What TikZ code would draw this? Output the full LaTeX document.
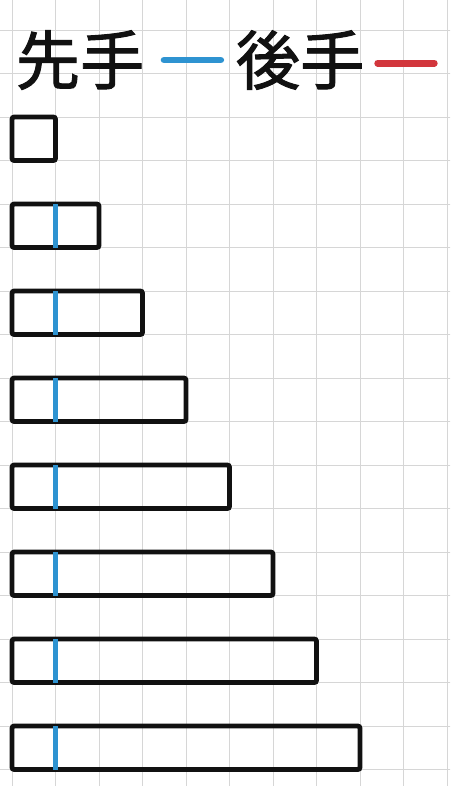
\documentclass[tikz,border=0pt]{standalone}
\usepackage{fontspec}
\newfontfamily\jpfont[FakeBold=1.5]{Noto Sans CJK JP}
\usetikzlibrary{positioning}
\definecolor{gridGray}{HTML}{D6D6D6}
\definecolor{senteBlue}{HTML}{2E93D1}
\definecolor{goteRed}{HTML}{D2363C}
\definecolor{inkBlack}{HTML}{111111}
\tikzset{
  gridline/.style={gridGray, line width=0.6pt},
  barbox/.style={rectangle, draw=inkBlack, line width=3.2pt, rounded corners=1.5pt,
                 inner sep=0pt, outer sep=0pt, minimum height=1cm},
  markB/.style={senteBlue, line width=3pt},
  dashB/.style={senteBlue, line width=4.5pt, line cap=round},
  dashR/.style={goteRed, line width=4.5pt, line cap=round},
  titleText/.style={font=\jpfont\fontsize{42}{42}\selectfont, text=inkBlack, inner sep=0pt},
}
\begin{document}
\begin{tikzpicture}
    \useasboundingbox (0,0) rectangle (10.345,-18.069);
    \fill[white] (0,0) rectangle (10.345,-18.069);
    \clip (0,0) rectangle (10.345,-18.069);
    \begin{scope}[xshift=0.276cm, yshift=-0.69cm]
      \draw[gridline] (-1,-18) grid (11,1);
    \end{scope}
    % title
    \node[titleText] (sente) at (1.84,-1.38) {先手};
    \node[titleText] (gote) at (6.90,-1.38) {後手};
    \draw[dashB] ([xshift=0.45cm]sente.east) -- ++(1.3,0);
    \draw[dashR] ([xshift=0.3cm,yshift=-0.07cm]gote.east) -- ++(1.3,0);
    % bars
    \node[barbox, minimum width=1cm, anchor=north west] (bar1) at (0.276,-2.69) {};
    \node[barbox, minimum width=2cm, below=1cm of bar1.south west, anchor=north west] (bar2) {};
    \node[barbox, minimum width=3cm, below=1cm of bar2.south west, anchor=north west] (bar3) {};
    \node[barbox, minimum width=4cm, below=1cm of bar3.south west, anchor=north west] (bar4) {};
    \node[barbox, minimum width=5cm, below=1cm of bar4.south west, anchor=north west] (bar5) {};
    \node[barbox, minimum width=6cm, below=1cm of bar5.south west, anchor=north west] (bar6) {};
    \node[barbox, minimum width=7cm, below=1cm of bar6.south west, anchor=north west] (bar7) {};
    \node[barbox, minimum width=8cm, below=1cm of bar7.south west, anchor=north west] (bar8) {};
    \draw[markB] ([xshift=1cm]bar2.north west) -- ([xshift=1cm]bar2.south west);
    \draw[markB] ([xshift=1cm]bar3.north west) -- ([xshift=1cm]bar3.south west);
    \draw[markB] ([xshift=1cm]bar4.north west) -- ([xshift=1cm]bar4.south west);
    \draw[markB] ([xshift=1cm]bar5.north west) -- ([xshift=1cm]bar5.south west);
    \draw[markB] ([xshift=1cm]bar6.north west) -- ([xshift=1cm]bar6.south west);
    \draw[markB] ([xshift=1cm]bar7.north west) -- ([xshift=1cm]bar7.south west);
    \draw[markB] ([xshift=1cm]bar8.north west) -- ([xshift=1cm]bar8.south west);
  \end{tikzpicture}
\end{document}
